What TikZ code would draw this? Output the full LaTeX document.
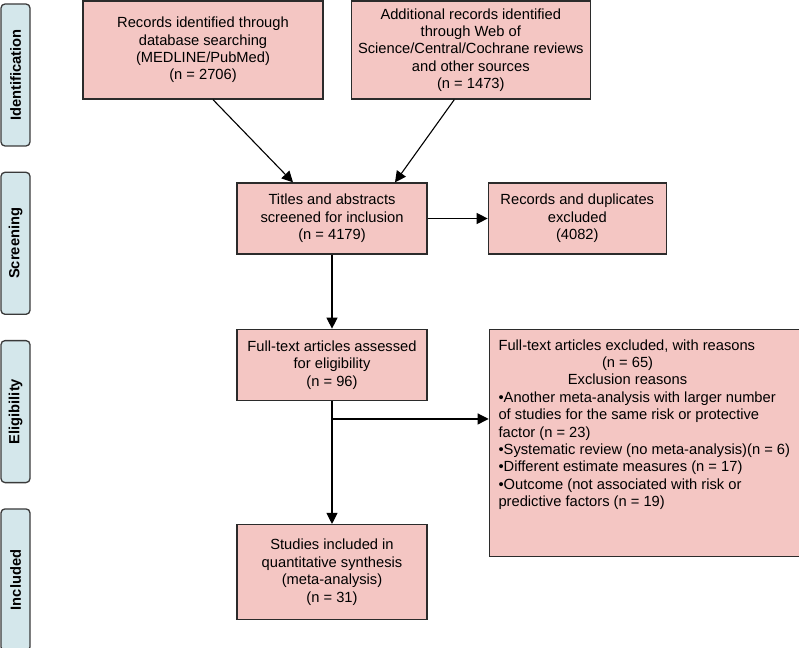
\documentclass[tikz,border=0pt]{standalone}
\usepackage{fontspec}
\setmainfont{Liberation Sans}
\usepackage{xcolor}
\usetikzlibrary{arrows,arrows.meta,positioning}

\definecolor{boxfill}{HTML}{F4C6C3}
\definecolor{boxline}{HTML}{2B2B2B}
\definecolor{stagefill}{HTML}{D4E7EB}
\definecolor{stageline}{HTML}{3A3A3A}

\begin{document}
\begin{tikzpicture}[->,>={Triangle[length=11pt,width=11pt]},line width=1.1pt,
                    x=1pt,y=-1pt,font=\fontsize{14.7}{17.4}\selectfont]
  \tikzstyle{box}=[draw=boxline,fill=boxfill,line width=1.3pt,align=center,inner sep=4pt]
  \tikzstyle{stage}=[draw=stageline,fill=stagefill,line width=1.3pt,rounded corners=4pt,
                     minimum width=29pt,minimum height=142pt,inner sep=0pt,
                     font=\bfseries\fontsize{14.7}{17.4}\selectfont]

  \useasboundingbox (0,0) rectangle (799,647);

  % stages on the left
  \node[stage] (ident) at (15.5,75) {\rotatebox{90}{Identification}};
  \node[stage] (screen) [below=25pt of ident] {\rotatebox{90}{Screening}};
  \node[stage] (elig) [below=25pt of screen] {\rotatebox{90}{Eligibility}};
  \node[stage] (incl) [below=25pt of elig] {\rotatebox{90}{Included}};

  % flow boxes
  \node[box,minimum width=240pt,minimum height=98pt] (rec) at (203,50)
    {Records identified through\\database searching\\(MEDLINE/PubMed)\\(n = 2706)};
  \node[box,minimum width=239pt,minimum height=98pt] (add) [right=27pt of rec]
    {Additional records identified\\through Web of\\Science/Central/Cochrane reviews\\and other sources\\(n = 1473)};
  \node[box,minimum width=190pt,minimum height=71pt] (titles) at (332,218.5)
    {Titles and abstracts\\screened for inclusion\\(n = 4179)};
  \node[box,minimum width=178pt,minimum height=71pt] (dupl) [right=60pt of titles]
    {Records and duplicates\\excluded\\(4082)};
  \node[box,minimum width=190pt,minimum height=71pt] (full) [below=74pt of titles]
    {Full-text articles assessed\\for eligibility\\(n = 96)};
  \node[box,minimum width=190pt,minimum height=95pt] (study) [below=123pt of full]
    {Studies included in\\quantitative synthesis\\(meta-analysis)\\(n = 31)};
  \node[box,align=left,minimum width=310pt,minimum height=227pt] (excl)
    [right=61pt of full.north east,anchor=north west]
    {Full-text articles excluded, with reasons\\
     \makebox[258pt]{(n = 65)}\\
     \makebox[258pt]{Exclusion reasons}\\
     •Another meta-analysis with larger number\\
     of studies for the same risk or protective\\
     factor (n = 23)\\
     •Systematic review (no meta-analysis)(n = 6)\\
     •Different estimate measures (n = 17)\\
     •Outcome (not associated with risk or\\
     predictive factors (n = 19)\\[22pt]};

  \coordinate (split) at ([yshift=-18pt]full.south);

  \path ([xshift=10pt]rec.south) edge ([xshift=-39pt]titles.north)
        ([xshift=-16.5pt]add.south) edge ([xshift=63pt]titles.north)
        (titles.east) edge (dupl.west)
        (titles.south) edge (full.north)
        (full.south) edge (study.north);
  \draw (split) -- (split -| excl.west);
\end{tikzpicture}
\end{document}
